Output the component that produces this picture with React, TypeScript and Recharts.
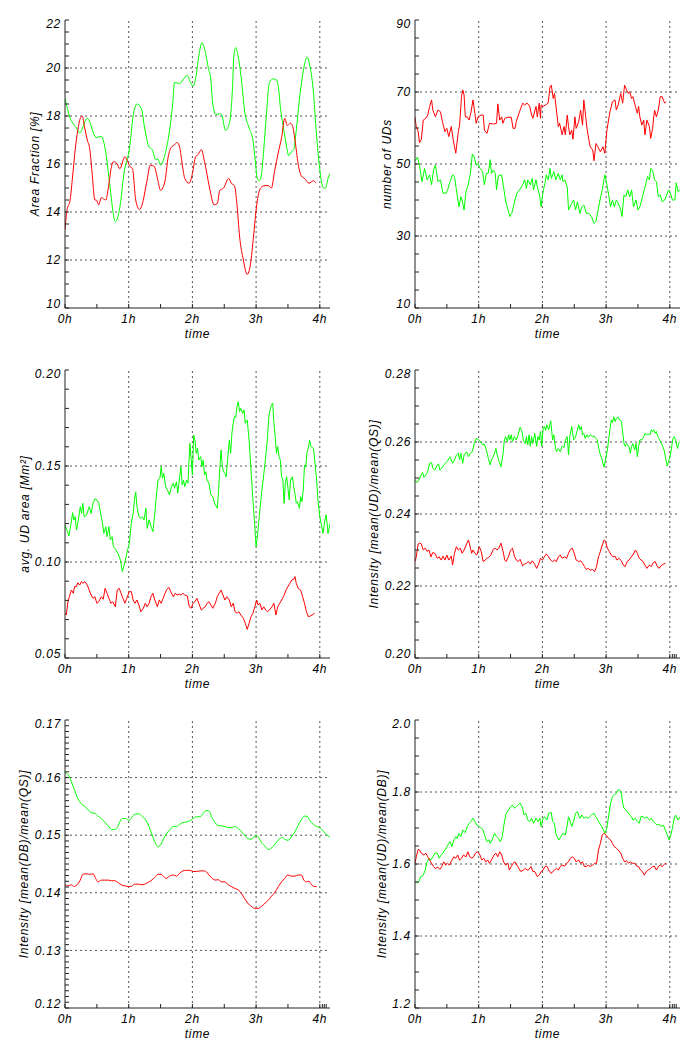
import React from 'react';
import { LineChart, Line, XAxis, YAxis, ReferenceLine } from 'recharts';

type Pt = [number, number];

// time axis (hours)
const T_MAX = 4.16;
const hourTicks = [0, 0.5, 1, 1.5, 2, 2.5, 3, 3.5, 4];
const endTicks = [4.04, 4.07, 4.1];
const hourGrid = [1, 2, 3, 4];

// A: area fraction [%]
const areaGreen: Pt[] = [
  [0, 18.74], [0.07, 18.0], [0.18, 17.5], [0.23, 17.3], [0.35, 17.9], [0.49, 17.1], [0.57, 17.15], [0.65, 16.3],
  [0.70, 15.2], [0.79, 13.6], [0.87, 14.35], [0.92, 15.5], [1.02, 16.8], [1.07, 18.0], [1.13, 18.5], [1.20, 18.3],
  [1.25, 17.5], [1.32, 16.7], [1.37, 16.6], [1.42, 16.2], [1.46, 16.2], [1.50, 15.95], [1.57, 16.4], [1.63, 17.2],
  [1.69, 18.5], [1.72, 19.4], [1.80, 19.35], [1.85, 19.5], [1.92, 19.7], [1.96, 19.45], [2.01, 19.25], [2.06, 19.7],
  [2.10, 20.5], [2.15, 21.05], [2.19, 20.8], [2.25, 20.0], [2.29, 19.5], [2.32, 18.5], [2.37, 18.05], [2.43, 18.1],
  [2.46, 18.05], [2.52, 17.4], [2.58, 17.7], [2.63, 19.2], [2.65, 20.5], [2.68, 20.85], [2.71, 20.6], [2.77, 19.5],
  [2.82, 18.2], [2.89, 17.5], [2.95, 17.0], [2.98, 16.3], [3.02, 15.4], [3.05, 15.3], [3.08, 15.5], [3.12, 16.6],
  [3.16, 18.0], [3.21, 19.4], [3.27, 19.55], [3.32, 19.5], [3.35, 19.2], [3.38, 18.4], [3.43, 17.5], [3.48, 16.7],
  [3.51, 16.35], [3.55, 16.5], [3.59, 16.6], [3.63, 17.4], [3.68, 18.7], [3.73, 19.7], [3.78, 20.35], [3.80, 20.45],
  [3.85, 20.0], [3.90, 19.0], [3.94, 17.5], [3.99, 16.0], [4.03, 15.2], [4.06, 15.0], [4.09, 15.0], [4.13, 15.4],
  [4.16, 15.6],
];
const areaRed: Pt[] = [
  [0, 13.25], [0.03, 14.05], [0.08, 14.5], [0.12, 15.5], [0.16, 16.6], [0.20, 17.4], [0.24, 17.9], [0.27, 18.0],
  [0.31, 17.5], [0.35, 17.0], [0.39, 16.6], [0.42, 15.8], [0.47, 14.5], [0.49, 14.5], [0.53, 14.3], [0.57, 14.6],
  [0.64, 14.5], [0.68, 15.0], [0.73, 15.9], [0.76, 16.1], [0.82, 16.0], [0.86, 15.8], [0.94, 16.3], [1.02, 15.9],
  [1.06, 15.8], [1.11, 14.5], [1.17, 14.1], [1.21, 14.3], [1.28, 15.2], [1.34, 15.95], [1.40, 15.9], [1.46, 15.3],
  [1.50, 14.9], [1.57, 15.3], [1.62, 16.3], [1.67, 16.7], [1.72, 16.8], [1.76, 16.9], [1.80, 16.7], [1.84, 16.0],
  [1.88, 15.4], [1.95, 15.2], [2.00, 15.6], [2.05, 16.3], [2.09, 16.4], [2.14, 16.6], [2.19, 16.1], [2.27, 15.0],
  [2.34, 14.3], [2.39, 14.35], [2.43, 14.9], [2.49, 15.0], [2.57, 15.4], [2.61, 15.2], [2.66, 15.1], [2.70, 14.3],
  [2.74, 13.0], [2.80, 12.0], [2.86, 11.4], [2.91, 11.8], [2.96, 13.0], [3.01, 14.3], [3.07, 15.0], [3.14, 15.1],
  [3.19, 15.1], [3.24, 15.0], [3.29, 15.7], [3.35, 16.5], [3.40, 17.1], [3.45, 17.9], [3.49, 17.6], [3.54, 17.7],
  [3.57, 17.6], [3.61, 17.0], [3.66, 16.0], [3.71, 15.5], [3.76, 15.4], [3.83, 15.2], [3.90, 15.3], [3.94, 15.2],
];

// B: number of UDs
const countGreen: Pt[] = [
  [0, 50.9], [0.04, 51.9], [0.07, 49.7], [0.11, 45.1], [0.15, 48.8], [0.19, 45.6], [0.23, 47], [0.26, 44.2],
  [0.29, 48.3], [0.32, 49.7], [0.36, 45.1], [0.40, 45.6], [0.44, 41.9], [0.49, 41.9], [0.52, 43.2], [0.54, 44.6],
  [0.59, 47], [0.62, 46.5], [0.65, 42.8], [0.69, 38.1], [0.72, 40.9], [0.74, 40], [0.77, 37.2], [0.80, 42.3],
  [0.84, 44.6], [0.87, 47.4], [0.90, 52.8], [0.93, 52], [0.96, 49.7], [0.99, 50.1], [1.02, 48.8], [1.06, 47.9],
  [1.09, 44.2], [1.12, 47.4], [1.15, 47.4], [1.18, 51.2], [1.20, 47.4], [1.23, 48.3], [1.26, 47.4], [1.28, 42.8],
  [1.31, 46.7], [1.36, 47], [1.39, 43.7], [1.42, 40], [1.46, 37.2], [1.49, 35.4], [1.52, 36.3], [1.57, 40],
  [1.60, 41.9], [1.64, 42.8], [1.69, 44.2], [1.72, 45.6], [1.75, 43.2], [1.77, 45.6], [1.81, 44.2], [1.84, 46],
  [1.86, 42.8], [1.90, 45.6], [1.92, 43.7], [1.96, 40.9], [1.98, 38.1], [2.01, 42.3], [2.04, 44.6], [2.06, 47],
  [2.09, 45.6], [2.12, 48.8], [2.14, 46], [2.18, 47.9], [2.21, 45.6], [2.25, 47.4], [2.28, 45.6], [2.31, 47],
  [2.32, 45.1], [2.35, 45.6], [2.39, 43.7], [2.41, 37.2], [2.46, 39.1], [2.49, 40], [2.52, 37.2], [2.55, 39.5],
  [2.59, 36.3], [2.62, 38.1], [2.65, 38.6], [2.69, 36.3], [2.73, 36.3], [2.77, 35.4], [2.81, 33.5], [2.84, 34],
  [2.87, 36.8], [2.91, 40.5], [2.94, 42.8], [2.98, 47], [3.01, 44.6], [3.04, 41.4], [3.07, 38.1], [3.10, 40],
  [3.13, 38.1], [3.16, 40], [3.19, 39.1], [3.23, 37.2], [3.25, 35.4], [3.28, 41.4], [3.31, 40.9], [3.34, 42.8],
  [3.37, 40.9], [3.40, 42.8], [3.43, 38.1], [3.47, 40], [3.50, 37.2], [3.53, 38.1], [3.56, 40], [3.59, 42.3],
  [3.62, 44.2], [3.65, 46.5], [3.68, 45.6], [3.70, 48.8], [3.73, 48.3], [3.76, 45.6], [3.79, 45.1], [3.82, 40.9],
  [3.85, 41.4], [3.88, 39.5], [3.92, 40], [3.95, 41.4], [3.98, 42.8], [4.01, 41.9], [4.04, 40], [4.08, 40],
  [4.10, 44.8], [4.13, 42.3], [4.16, 42.8],
];
const countRed: Pt[] = [
  [0, 63], [0.02, 60.4], [0.05, 59], [0.07, 55.9], [0.10, 56.9], [0.13, 62.2], [0.17, 62.7], [0.20, 63.6],
  [0.23, 66], [0.26, 67.8], [0.28, 65], [0.32, 63.1], [0.36, 65], [0.40, 64.5], [0.43, 61.8], [0.47, 59],
  [0.50, 59.9], [0.53, 57.6], [0.57, 60.4], [0.60, 56.7], [0.64, 53], [0.68, 59], [0.70, 60.8], [0.73, 68.7],
  [0.75, 70.6], [0.77, 69.2], [0.79, 63.1], [0.82, 63.1], [0.85, 62.2], [0.88, 64.5], [0.91, 67.8], [0.94, 64.1],
  [0.96, 61.3], [0.99, 63.1], [1.04, 63.6], [1.07, 63.6], [1.09, 59.4], [1.13, 58.5], [1.17, 61.3], [1.23, 61.1],
  [1.28, 61.3], [1.30, 66.7], [1.33, 62.2], [1.36, 63.1], [1.38, 61.3], [1.41, 62.7], [1.46, 63], [1.51, 63],
  [1.54, 59.9], [1.57, 59.9], [1.59, 61.8], [1.64, 64.5], [1.69, 66.9], [1.72, 66.4], [1.76, 66.9], [1.80, 66.1],
  [1.83, 63.6], [1.85, 62.7], [1.90, 66], [1.92, 63.1], [1.95, 66.9], [1.97, 62.7], [1.98, 66.4], [2.01, 66],
  [2.05, 66.4], [2.09, 66.9], [2.12, 71.5], [2.14, 71.9], [2.17, 68.2], [2.19, 69.6], [2.22, 65], [2.25, 60.4],
  [2.27, 61.3], [2.31, 58.1], [2.34, 60.4], [2.36, 58.1], [2.39, 63.6], [2.41, 60.4], [2.43, 58.1], [2.46, 59.4],
  [2.48, 56.9], [2.51, 63.1], [2.53, 59.9], [2.57, 61.8], [2.60, 65], [2.63, 60.8], [2.65, 67.8], [2.68, 63.1],
  [2.70, 59.9], [2.73, 56.7], [2.75, 54.8], [2.79, 53.9], [2.81, 50.9], [2.84, 55.7], [2.87, 54.8], [2.91, 53.4],
  [2.95, 54.8], [2.98, 53], [3.01, 59], [3.03, 61.3], [3.06, 64.5], [3.10, 67.3], [3.14, 67.8], [3.16, 65],
  [3.19, 66.4], [3.23, 69.6], [3.26, 66.9], [3.29, 71.9], [3.32, 70.6], [3.35, 69.6], [3.37, 70.1], [3.40, 68.2],
  [3.42, 68.7], [3.46, 66], [3.49, 64.1], [3.51, 66], [3.53, 63.1], [3.56, 60.8], [3.59, 62.2], [3.61, 58.1],
  [3.64, 62.2], [3.68, 60.4], [3.70, 57.1], [3.73, 59.9], [3.76, 65], [3.79, 63.1], [3.82, 65], [3.85, 68.7],
  [3.88, 68.7], [3.91, 67.3], [3.92, 66.9], [3.94, 67.3],
];

// C: avg. UD area [Mm^2]
const sizeGreen: Pt[] = [
  [0, 0.1193], [0.04, 0.1158], [0.06, 0.1135], [0.09, 0.119], [0.12, 0.1257], [0.14, 0.1219], [0.16, 0.1236],
  [0.18, 0.1167], [0.21, 0.1219], [0.24, 0.1288], [0.26, 0.1253], [0.28, 0.1306], [0.30, 0.1236], [0.34, 0.1245],
  [0.38, 0.1288], [0.41, 0.1253], [0.44, 0.1306], [0.47, 0.133], [0.50, 0.1323], [0.53, 0.1306], [0.56, 0.1253],
  [0.59, 0.1201], [0.61, 0.1149], [0.64, 0.1184], [0.66, 0.1132], [0.69, 0.1184], [0.71, 0.1115], [0.74, 0.1132],
  [0.76, 0.108], [0.80, 0.1063], [0.83, 0.1045], [0.87, 0.101], [0.90, 0.095], [0.94, 0.0998], [0.97, 0.1045],
  [1.01, 0.1097], [1.04, 0.1201], [1.07, 0.1253], [1.09, 0.1323], [1.11, 0.1365], [1.13, 0.1288], [1.16, 0.1236],
  [1.18, 0.1227], [1.21, 0.1236], [1.24, 0.1219], [1.27, 0.128], [1.29, 0.1175], [1.32, 0.1219], [1.36, 0.1175],
  [1.38, 0.1158], [1.41, 0.1253], [1.43, 0.1332], [1.46, 0.1427], [1.49, 0.1436], [1.51, 0.1497], [1.53, 0.1436],
  [1.55, 0.1462], [1.58, 0.1392], [1.62, 0.1366], [1.64, 0.1349], [1.67, 0.1392], [1.70, 0.141], [1.72, 0.1384],
  [1.75, 0.1418], [1.77, 0.1358], [1.80, 0.1444], [1.82, 0.1497], [1.84, 0.1401], [1.86, 0.1427], [1.88, 0.1392],
  [1.91, 0.1427], [1.93, 0.141], [1.96, 0.1618], [1.98, 0.154], [2.00, 0.1453], [2.02, 0.1661], [2.04, 0.1635],
  [2.06, 0.1566], [2.08, 0.1592], [2.10, 0.1531], [2.13, 0.1549], [2.15, 0.1497], [2.17, 0.1531], [2.19, 0.1453],
  [2.21, 0.147], [2.23, 0.1427], [2.26, 0.141], [2.29, 0.1349], [2.32, 0.134], [2.35, 0.1306], [2.39, 0.128],
  [2.41, 0.1366], [2.43, 0.1488], [2.45, 0.1583], [2.47, 0.1497], [2.49, 0.147], [2.51, 0.1462], [2.53, 0.1444],
  [2.55, 0.1523], [2.58, 0.1635], [2.60, 0.1566], [2.62, 0.167], [2.64, 0.1722], [2.66, 0.1757], [2.68, 0.1753],
  [2.70, 0.1809], [2.72, 0.1835], [2.74, 0.1783], [2.76, 0.18], [2.79, 0.1774], [2.81, 0.1792], [2.83, 0.1722],
  [2.86, 0.174], [2.89, 0.1635], [2.91, 0.1531], [2.93, 0.1427], [2.95, 0.1323], [2.98, 0.1184], [3.00, 0.108],
  [3.02, 0.1132], [3.05, 0.1236], [3.08, 0.134], [3.11, 0.1427], [3.14, 0.1514], [3.16, 0.1583], [3.18, 0.1653],
  [3.20, 0.1757], [3.23, 0.1809], [3.26, 0.1828], [3.28, 0.1722], [3.30, 0.1653], [3.32, 0.1566], [3.34, 0.1601],
  [3.36, 0.1549], [3.38, 0.1531], [3.40, 0.1444], [3.42, 0.1427], [3.44, 0.1306], [3.46, 0.1418], [3.48, 0.1444],
  [3.50, 0.1384], [3.52, 0.1323], [3.54, 0.1427], [3.57, 0.1444], [3.59, 0.1392], [3.61, 0.1358], [3.63, 0.1306],
  [3.65, 0.1314], [3.68, 0.128], [3.70, 0.134], [3.72, 0.1314], [3.74, 0.1375], [3.76, 0.1505], [3.78, 0.1497],
  [3.80, 0.1575], [3.82, 0.1592], [3.84, 0.1635], [3.86, 0.1601], [3.90, 0.1592], [3.92, 0.1531], [3.95, 0.1427],
  [3.97, 0.1323], [4.00, 0.1236], [4.03, 0.1184], [4.05, 0.1149], [4.08, 0.1219], [4.10, 0.1245], [4.13, 0.1149],
  [4.16, 0.1201],
];
const sizeRed: Pt[] = [
  [0, 0.0733], [0.02, 0.0724], [0.05, 0.0802], [0.07, 0.0819], [0.10, 0.0854], [0.13, 0.0837], [0.15, 0.0872],
  [0.18, 0.0872], [0.20, 0.0892], [0.23, 0.088], [0.26, 0.0898], [0.28, 0.0889], [0.31, 0.0898], [0.35, 0.088],
  [0.38, 0.0854], [0.41, 0.0828], [0.44, 0.0811], [0.47, 0.0819], [0.50, 0.0785], [0.53, 0.0793], [0.57, 0.0819],
  [0.60, 0.0806], [0.63, 0.0863], [0.66, 0.0837], [0.69, 0.0811], [0.72, 0.0785], [0.75, 0.0793], [0.79, 0.0767],
  [0.82, 0.0854], [0.85, 0.0863], [0.88, 0.0837], [0.91, 0.0811], [0.94, 0.0785], [0.97, 0.0811], [1.01, 0.0846],
  [1.04, 0.0846], [1.07, 0.0802], [1.10, 0.0785], [1.13, 0.0802], [1.16, 0.0776], [1.19, 0.0741], [1.23, 0.0759],
  [1.26, 0.0785], [1.29, 0.0767], [1.32, 0.0785], [1.35, 0.0819], [1.38, 0.0837], [1.41, 0.0802], [1.45, 0.0767],
  [1.48, 0.0802], [1.51, 0.0785], [1.54, 0.0811], [1.57, 0.0837], [1.60, 0.0858], [1.63, 0.0868], [1.66, 0.0846],
  [1.70, 0.0819], [1.73, 0.0837], [1.76, 0.0828], [1.79, 0.0833], [1.82, 0.0828], [1.85, 0.0837], [1.88, 0.0828],
  [1.92, 0.0823], [1.95, 0.0767], [1.98, 0.0759], [2.01, 0.0785], [2.04, 0.0793], [2.07, 0.0811], [2.10, 0.0785],
  [2.14, 0.075], [2.17, 0.0759], [2.20, 0.0767], [2.23, 0.0785], [2.26, 0.0793], [2.29, 0.0776], [2.32, 0.0759],
  [2.36, 0.0785], [2.39, 0.0819], [2.42, 0.0837], [2.45, 0.0854], [2.48, 0.0828], [2.51, 0.0802], [2.54, 0.0819],
  [2.58, 0.0802], [2.61, 0.0767], [2.64, 0.0785], [2.67, 0.0741], [2.70, 0.0733], [2.73, 0.0741], [2.76, 0.0724],
  [2.80, 0.0707], [2.83, 0.0681], [2.86, 0.0649], [2.89, 0.0681], [2.92, 0.0715], [2.95, 0.0733], [2.98, 0.0767],
  [3.01, 0.0802], [3.03, 0.0776], [3.06, 0.0785], [3.09, 0.075], [3.12, 0.0767], [3.15, 0.075], [3.18, 0.0741],
  [3.21, 0.075], [3.25, 0.0767], [3.28, 0.0785], [3.31, 0.0724], [3.34, 0.0767], [3.37, 0.0785], [3.40, 0.0802],
  [3.43, 0.0819], [3.47, 0.0854], [3.50, 0.0872], [3.53, 0.0889], [3.56, 0.0906], [3.59, 0.091], [3.61, 0.0924],
  [3.63, 0.0889], [3.66, 0.0863], [3.70, 0.0854], [3.73, 0.0819], [3.76, 0.0785], [3.79, 0.0741], [3.82, 0.0715],
  [3.85, 0.0719], [3.88, 0.0724], [3.92, 0.0733],
];

// D: mean(UD)/mean(QS)
const udqsGreen: Pt[] = [
  [0, 0.2494], [0.03, 0.2487], [0.06, 0.2494], [0.09, 0.2506], [0.12, 0.2515], [0.14, 0.2502], [0.17, 0.2508],
  [0.20, 0.2518], [0.23, 0.2541], [0.26, 0.2543], [0.28, 0.2527], [0.31, 0.2522], [0.35, 0.2536], [0.37, 0.2539],
  [0.39, 0.2522], [0.42, 0.2527], [0.45, 0.2536], [0.49, 0.2543], [0.52, 0.255], [0.55, 0.2559], [0.59, 0.2541],
  [0.62, 0.255], [0.65, 0.2564], [0.68, 0.2569], [0.70, 0.255], [0.72, 0.2569], [0.75, 0.2541], [0.77, 0.2564],
  [0.81, 0.2573], [0.84, 0.2559], [0.87, 0.2569], [0.90, 0.2573], [0.93, 0.2596], [0.96, 0.261], [0.99, 0.2607],
  [1.03, 0.2601], [1.06, 0.2592], [1.09, 0.2594], [1.12, 0.2578], [1.15, 0.2555], [1.18, 0.2536], [1.20, 0.255],
  [1.24, 0.2564], [1.27, 0.2582], [1.29, 0.2564], [1.32, 0.2546], [1.35, 0.2531], [1.38, 0.2564], [1.40, 0.2601],
  [1.42, 0.2615], [1.45, 0.2601], [1.47, 0.262], [1.49, 0.2606], [1.51, 0.262], [1.53, 0.2601], [1.56, 0.2615],
  [1.59, 0.2606], [1.62, 0.262], [1.65, 0.2641], [1.68, 0.2629], [1.70, 0.2606], [1.73, 0.2596], [1.75, 0.2615],
  [1.77, 0.2592], [1.79, 0.262], [1.81, 0.2588], [1.83, 0.2615], [1.85, 0.2596], [1.88, 0.2624], [1.91, 0.2588],
  [1.93, 0.2615], [1.95, 0.2606], [1.97, 0.2629], [1.99, 0.2588], [2.01, 0.2636], [2.03, 0.2643], [2.05, 0.2632],
  [2.07, 0.2648], [2.10, 0.2634], [2.13, 0.2659], [2.16, 0.2606], [2.18, 0.262], [2.20, 0.2588], [2.22, 0.2573],
  [2.25, 0.2582], [2.28, 0.2573], [2.31, 0.2588], [2.34, 0.2585], [2.36, 0.2606], [2.39, 0.2615], [2.41, 0.2564],
  [2.43, 0.2615], [2.46, 0.2643], [2.49, 0.2606], [2.51, 0.261], [2.53, 0.262], [2.57, 0.2648], [2.59, 0.2634],
  [2.61, 0.2643], [2.63, 0.262], [2.65, 0.2624], [2.67, 0.261], [2.70, 0.262], [2.72, 0.2613], [2.75, 0.262],
  [2.79, 0.2615], [2.81, 0.2617], [2.84, 0.261], [2.86, 0.2606], [2.89, 0.2578], [2.91, 0.2564], [2.93, 0.2555],
  [2.95, 0.2541], [2.97, 0.253], [2.99, 0.255], [3.02, 0.2578], [3.04, 0.2606], [3.06, 0.2634], [3.08, 0.2661],
  [3.10, 0.2654], [3.12, 0.267], [3.14, 0.2657], [3.16, 0.2666], [3.19, 0.2669], [3.21, 0.2661], [3.24, 0.2657],
  [3.26, 0.2629], [3.28, 0.2596], [3.30, 0.2588], [3.32, 0.2596], [3.34, 0.259], [3.36, 0.2588], [3.38, 0.2569],
  [3.40, 0.2588], [3.42, 0.2596], [3.45, 0.2578], [3.47, 0.2596], [3.49, 0.2559], [3.51, 0.2588], [3.53, 0.2606],
  [3.56, 0.2606], [3.59, 0.2615], [3.61, 0.2624], [3.63, 0.262], [3.66, 0.2622], [3.69, 0.262], [3.71, 0.2634],
  [3.73, 0.2629], [3.75, 0.2634], [3.77, 0.2624], [3.79, 0.2629], [3.81, 0.2615], [3.84, 0.2606], [3.87, 0.2596],
  [3.91, 0.2578], [3.94, 0.255], [3.96, 0.2533], [3.98, 0.2546], [4.01, 0.2564], [4.03, 0.2588], [4.05, 0.261],
  [4.07, 0.2615], [4.09, 0.2606], [4.12, 0.2582], [4.14, 0.2596], [4.16, 0.2601],
];
const udqsRed: Pt[] = [
  [0, 0.2268], [0.02, 0.2281], [0.05, 0.2317], [0.07, 0.2319], [0.10, 0.2317], [0.13, 0.23], [0.16, 0.2305],
  [0.19, 0.2296], [0.22, 0.23], [0.25, 0.2281], [0.28, 0.2293], [0.31, 0.2291], [0.35, 0.2277], [0.38, 0.2281],
  [0.41, 0.2272], [0.44, 0.2283], [0.47, 0.2272], [0.50, 0.2286], [0.53, 0.2272], [0.57, 0.2283], [0.59, 0.2258],
  [0.62, 0.2291], [0.65, 0.2309], [0.68, 0.23], [0.71, 0.2305], [0.74, 0.2291], [0.77, 0.23], [0.81, 0.2317],
  [0.84, 0.2328], [0.87, 0.2305], [0.89, 0.2291], [0.91, 0.23], [0.94, 0.2291], [0.97, 0.2286], [1.01, 0.2309],
  [1.04, 0.2296], [1.07, 0.2268], [1.10, 0.2272], [1.13, 0.2277], [1.16, 0.228], [1.19, 0.2286], [1.23, 0.2302],
  [1.26, 0.2305], [1.29, 0.23], [1.32, 0.2307], [1.35, 0.2319], [1.38, 0.2298], [1.41, 0.2272], [1.43, 0.2268],
  [1.47, 0.2283], [1.50, 0.23], [1.53, 0.2305], [1.56, 0.2283], [1.59, 0.2272], [1.62, 0.2268], [1.65, 0.2274],
  [1.69, 0.2256], [1.72, 0.2261], [1.75, 0.2263], [1.78, 0.2268], [1.81, 0.2261], [1.84, 0.227], [1.87, 0.2263],
  [1.91, 0.2249], [1.94, 0.2261], [1.97, 0.2277], [2.00, 0.2272], [2.03, 0.2281], [2.06, 0.2289], [2.09, 0.2283],
  [2.13, 0.2272], [2.16, 0.2268], [2.19, 0.2272], [2.22, 0.2268], [2.25, 0.2281], [2.28, 0.2286], [2.31, 0.2277],
  [2.35, 0.2281], [2.38, 0.2277], [2.41, 0.2291], [2.44, 0.2302], [2.47, 0.2305], [2.50, 0.2291], [2.53, 0.2272],
  [2.57, 0.2268], [2.60, 0.227], [2.63, 0.2263], [2.66, 0.2254], [2.69, 0.2246], [2.72, 0.2249], [2.75, 0.2244],
  [2.79, 0.2246], [2.82, 0.224], [2.85, 0.2254], [2.88, 0.2281], [2.91, 0.2296], [2.94, 0.2314], [2.97, 0.2328],
  [2.99, 0.2324], [3.02, 0.2305], [3.05, 0.2296], [3.08, 0.2286], [3.11, 0.2281], [3.14, 0.2283], [3.17, 0.2272],
  [3.20, 0.2277], [3.24, 0.227], [3.27, 0.2258], [3.30, 0.2254], [3.33, 0.2268], [3.36, 0.2272], [3.39, 0.228],
  [3.42, 0.2286], [3.46, 0.23], [3.49, 0.2291], [3.52, 0.2277], [3.55, 0.2272], [3.58, 0.2268], [3.61, 0.2258],
  [3.64, 0.2249], [3.68, 0.2258], [3.71, 0.2254], [3.74, 0.2265], [3.77, 0.2268], [3.80, 0.2256], [3.83, 0.2249],
  [3.86, 0.2256], [3.90, 0.2261], [3.93, 0.2263],
];

// E: mean(DB)/mean(QS)
const dbqsGreen: Pt[] = [
  [0, 0.1609], [0.05, 0.1605], [0.10, 0.1593], [0.15, 0.1578], [0.20, 0.1564], [0.26, 0.1554], [0.31, 0.155],
  [0.36, 0.1545], [0.41, 0.1539], [0.47, 0.1538], [0.52, 0.1533], [0.57, 0.1529], [0.62, 0.1523], [0.68, 0.1516],
  [0.73, 0.151], [0.78, 0.151], [0.82, 0.1513], [0.86, 0.1523], [0.90, 0.1529], [0.95, 0.1529], [1.01, 0.1526],
  [1.06, 0.1533], [1.11, 0.1537], [1.16, 0.1537], [1.21, 0.1533], [1.27, 0.1526], [1.32, 0.1515], [1.37, 0.15],
  [1.42, 0.1486], [1.46, 0.148], [1.50, 0.1483], [1.54, 0.1492], [1.59, 0.1502], [1.64, 0.1509], [1.70, 0.1515],
  [1.75, 0.1515], [1.80, 0.1519], [1.85, 0.1522], [1.91, 0.1523], [1.96, 0.1525], [2.01, 0.1529], [2.06, 0.1532],
  [2.12, 0.1532], [2.17, 0.1538], [2.19, 0.1541], [2.23, 0.1543], [2.27, 0.1541], [2.30, 0.1532], [2.35, 0.1523],
  [2.40, 0.1517], [2.46, 0.1516], [2.51, 0.1515], [2.56, 0.1513], [2.61, 0.1513], [2.66, 0.1515], [2.72, 0.1512],
  [2.77, 0.1506], [2.82, 0.15], [2.87, 0.1494], [2.93, 0.1493], [2.96, 0.1497], [3.01, 0.1499], [3.05, 0.1494],
  [3.08, 0.1488], [3.14, 0.1481], [3.19, 0.1475], [3.23, 0.1477], [3.27, 0.1481], [3.31, 0.1486], [3.36, 0.1493],
  [3.41, 0.1496], [3.45, 0.1493], [3.50, 0.1491], [3.55, 0.1497], [3.61, 0.1506], [3.66, 0.1517], [3.71, 0.1527],
  [3.76, 0.1533], [3.80, 0.1533], [3.84, 0.1526], [3.90, 0.1519], [3.95, 0.1515], [4.00, 0.1513], [4.04, 0.1509],
  [4.09, 0.1503], [4.15, 0.1497], [4.16, 0.1496],
];
const dbqsRed: Pt[] = [
  [0, 0.1414], [0.05, 0.1412], [0.10, 0.1414], [0.14, 0.1411], [0.19, 0.1414], [0.24, 0.1422], [0.28, 0.1432],
  [0.34, 0.1433], [0.39, 0.1432], [0.44, 0.1433], [0.48, 0.1425], [0.52, 0.1419], [0.57, 0.1422], [0.62, 0.1422],
  [0.68, 0.1422], [0.73, 0.1421], [0.78, 0.1421], [0.83, 0.1418], [0.88, 0.1414], [0.94, 0.1412], [0.99, 0.1411],
  [1.04, 0.1411], [1.09, 0.1415], [1.15, 0.1415], [1.20, 0.1414], [1.25, 0.1415], [1.30, 0.1418], [1.36, 0.1422],
  [1.41, 0.1427], [1.46, 0.1432], [1.51, 0.1432], [1.55, 0.1428], [1.59, 0.1425], [1.64, 0.1429], [1.70, 0.1431],
  [1.75, 0.1429], [1.80, 0.1434], [1.85, 0.1438], [1.91, 0.1439], [1.96, 0.1439], [2.01, 0.1437], [2.06, 0.1437],
  [2.12, 0.1438], [2.17, 0.1438], [2.21, 0.1437], [2.26, 0.1431], [2.31, 0.1425], [2.37, 0.1422], [2.40, 0.1423],
  [2.46, 0.1419], [2.51, 0.1419], [2.56, 0.1414], [2.61, 0.1411], [2.66, 0.1408], [2.72, 0.1405], [2.77, 0.1399],
  [2.82, 0.139], [2.87, 0.1382], [2.93, 0.1376], [2.98, 0.1373], [3.03, 0.1373], [3.08, 0.1376], [3.14, 0.1382],
  [3.19, 0.1387], [3.24, 0.1394], [3.29, 0.14], [3.35, 0.1411], [3.40, 0.1419], [3.45, 0.1425], [3.50, 0.1431],
  [3.55, 0.1429], [3.61, 0.1429], [3.66, 0.1431], [3.71, 0.1431], [3.75, 0.1422], [3.79, 0.1419], [3.83, 0.142],
  [3.87, 0.1414], [3.92, 0.1411], [3.95, 0.1411],
];

// F: mean(UD)/mean(DB)
const uddbGreen: Pt[] = [
  [0, 1.551], [0.04, 1.548], [0.06, 1.551], [0.09, 1.565], [0.13, 1.569], [0.16, 1.583], [0.19, 1.606], [0.22, 1.616],
  [0.25, 1.611], [0.28, 1.62], [0.31, 1.63], [0.35, 1.63], [0.38, 1.616], [0.41, 1.625], [0.44, 1.63], [0.47, 1.639],
  [0.50, 1.648], [0.53, 1.657], [0.55, 1.662], [0.58, 1.648], [0.61, 1.667], [0.64, 1.676], [0.66, 1.671], [0.69, 1.685],
  [0.72, 1.676], [0.75, 1.694], [0.79, 1.687], [0.82, 1.704], [0.85, 1.713], [0.88, 1.718], [0.91, 1.727], [0.94, 1.718],
  [0.97, 1.708], [1.01, 1.704], [1.04, 1.699], [1.07, 1.694], [1.10, 1.676], [1.13, 1.662], [1.16, 1.667], [1.18, 1.657],
  [1.21, 1.667], [1.25, 1.685], [1.28, 1.676], [1.31, 1.671], [1.34, 1.662], [1.37, 1.676], [1.40, 1.713], [1.43, 1.741],
  [1.47, 1.75], [1.50, 1.759], [1.53, 1.764], [1.56, 1.755], [1.59, 1.759], [1.62, 1.764], [1.65, 1.769], [1.69, 1.755],
  [1.71, 1.736], [1.74, 1.741], [1.77, 1.722], [1.80, 1.718], [1.83, 1.727], [1.86, 1.713], [1.90, 1.727], [1.93, 1.718],
  [1.96, 1.727], [1.98, 1.704], [2.01, 1.727], [2.04, 1.731], [2.07, 1.722], [2.10, 1.741], [2.14, 1.743], [2.16, 1.718],
  [2.19, 1.713], [2.21, 1.685], [2.23, 1.676], [2.26, 1.667], [2.29, 1.676], [2.32, 1.685], [2.36, 1.681], [2.39, 1.708],
  [2.41, 1.731], [2.43, 1.722], [2.46, 1.704], [2.49, 1.718], [2.52, 1.741], [2.55, 1.745], [2.59, 1.727], [2.62, 1.736],
  [2.65, 1.727], [2.68, 1.731], [2.71, 1.727], [2.74, 1.731], [2.77, 1.736], [2.81, 1.741], [2.84, 1.731], [2.87, 1.722],
  [2.90, 1.713], [2.93, 1.704], [2.96, 1.694], [2.98, 1.685], [3.01, 1.699], [3.03, 1.722], [3.05, 1.745], [3.07, 1.769],
  [3.10, 1.787], [3.13, 1.792], [3.16, 1.796], [3.19, 1.807], [3.21, 1.806], [3.24, 1.796], [3.26, 1.769], [3.28, 1.755],
  [3.31, 1.75], [3.34, 1.745], [3.37, 1.736], [3.40, 1.731], [3.42, 1.722], [3.46, 1.727], [3.49, 1.718], [3.52, 1.713],
  [3.55, 1.733], [3.58, 1.731], [3.61, 1.727], [3.64, 1.731], [3.68, 1.722], [3.71, 1.727], [3.74, 1.718], [3.77, 1.713],
  [3.80, 1.708], [3.83, 1.711], [3.86, 1.704], [3.90, 1.708], [3.93, 1.694], [3.96, 1.681], [3.99, 1.667], [4.01, 1.676],
  [4.04, 1.699], [4.07, 1.727], [4.09, 1.736], [4.13, 1.722], [4.16, 1.731],
];
const uddbRed: Pt[] = [
  [0, 1.602], [0.02, 1.62], [0.05, 1.641], [0.07, 1.639], [0.10, 1.63], [0.14, 1.625], [0.17, 1.63], [0.20, 1.62],
  [0.23, 1.611], [0.26, 1.602], [0.29, 1.593], [0.32, 1.588], [0.36, 1.591], [0.39, 1.585], [0.42, 1.593], [0.45, 1.606],
  [0.48, 1.597], [0.51, 1.602], [0.54, 1.597], [0.58, 1.611], [0.61, 1.62], [0.64, 1.616], [0.67, 1.625], [0.70, 1.611],
  [0.73, 1.616], [0.76, 1.625], [0.80, 1.62], [0.83, 1.634], [0.86, 1.62], [0.89, 1.616], [0.92, 1.62], [0.95, 1.63],
  [0.98, 1.634], [1.02, 1.625], [1.05, 1.611], [1.08, 1.616], [1.11, 1.606], [1.14, 1.611], [1.17, 1.602], [1.20, 1.611],
  [1.24, 1.625], [1.27, 1.63], [1.30, 1.62], [1.33, 1.634], [1.36, 1.625], [1.39, 1.606], [1.42, 1.597], [1.46, 1.602],
  [1.48, 1.583], [1.51, 1.593], [1.54, 1.602], [1.57, 1.606], [1.60, 1.597], [1.63, 1.588], [1.66, 1.579], [1.70, 1.583],
  [1.73, 1.588], [1.76, 1.583], [1.79, 1.585], [1.82, 1.593], [1.85, 1.579], [1.88, 1.579], [1.92, 1.565], [1.95, 1.569],
  [1.98, 1.579], [2.01, 1.583], [2.04, 1.593], [2.07, 1.594], [2.10, 1.583], [2.14, 1.574], [2.16, 1.579], [2.19, 1.583],
  [2.22, 1.588], [2.25, 1.583], [2.28, 1.593], [2.31, 1.597], [2.35, 1.594], [2.38, 1.602], [2.41, 1.606], [2.44, 1.616],
  [2.47, 1.62], [2.50, 1.616], [2.53, 1.606], [2.57, 1.611], [2.60, 1.602], [2.63, 1.606], [2.66, 1.593], [2.69, 1.593],
  [2.72, 1.597], [2.75, 1.593], [2.79, 1.597], [2.82, 1.602], [2.85, 1.602], [2.88, 1.639], [2.91, 1.657], [2.94, 1.681],
  [2.97, 1.685], [3.01, 1.678], [3.04, 1.671], [3.07, 1.667], [3.10, 1.657], [3.13, 1.648], [3.16, 1.644], [3.19, 1.639],
  [3.23, 1.63], [3.26, 1.616], [3.29, 1.606], [3.32, 1.609], [3.35, 1.602], [3.38, 1.606], [3.41, 1.602], [3.45, 1.602],
  [3.48, 1.594], [3.51, 1.593], [3.54, 1.583], [3.57, 1.579], [3.60, 1.569], [3.63, 1.579], [3.66, 1.583], [3.70, 1.588],
  [3.73, 1.593], [3.76, 1.594], [3.79, 1.583], [3.82, 1.593], [3.85, 1.597], [3.88, 1.593], [3.92, 1.6], [3.94, 1.602],
];

// y-axis labels (major) per panel
const areaMajor = [10, 12, 14, 16, 18, 20, 22];
const countMajor = [10, 30, 50, 70, 90];
const sizeMajor = [0.05, 0.1, 0.15, 0.2];
const udqsMajor = [0.2, 0.22, 0.24, 0.26, 0.28];
const dbqsMajor = [0.12, 0.13, 0.14, 0.15, 0.16, 0.17];
const uddbMajor = [1.2, 1.4, 1.6, 1.8, 2.0];

const FONT = "'Liberation Sans', Arial, sans-serif";
const textStyle = { fontSize: 12, fontStyle: 'italic' as const, fill: '#000', fontFamily: FONT, letterSpacing: 0.7 };
const FRAME = '#222';
const TICK = 4;

const rows = (pts: Pt[]) => pts.map(([t, v]) => ({ t, v }));

const steps = (lo: number, hi: number, step: number) => {
  const out: number[] = [];
  const n = Math.round((hi - lo) / step);
  for (let i = 0; i <= n; i++) out.push(+(lo + i * step).toFixed(6));
  return out;
};

const isIn = (v: number, list: number[]) => list.some((m) => Math.abs(m - v) < 1e-7);

interface PanelProps {
  title: string;
  yLabel: string;
  labelX: number;
  green: Pt[];
  red: Pt[];
  major: number[];
  minorStep: number;
  decimals: number;
  smooth?: boolean;
  extraTicks?: boolean;
}

const Panel = ({ title, yLabel, labelX, green, red, major, minorStep, decimals, smooth, extraTicks }: PanelProps) => {
  const lo = major[0];
  const hi = major[major.length - 1];
  const yTicks = steps(lo, hi, minorStep);
  const xTicks = extraTicks ? [...hourTicks, ...endTicks] : hourTicks;
  const yGrid = major.slice(1, -1);
  const curve = smooth ? 'monotone' : 'linear';
  const axisLine = { stroke: FRAME, strokeWidth: 1 };

  const bottomTick = (p: any) => {
    const v = p.payload.value;
    return (
      <g>
        <line x1={p.x} x2={p.x} y1={p.y} y2={p.y - TICK} stroke={FRAME} />
        {Number.isInteger(v) && (
          <text x={p.x} y={p.y + 15} textAnchor="middle" style={textStyle}>{`${v}h`}</text>
        )}
      </g>
    );
  };
  const topTick = (p: any) => <line x1={p.x} x2={p.x} y1={p.y} y2={p.y + TICK} stroke={FRAME} />;
  const leftTick = (p: any) => {
    const v = p.payload.value;
    const shift = Math.abs(v - lo) < 1e-7 ? -4 : Math.abs(v - hi) < 1e-7 ? 4 : 0;
    return (
      <g>
        <line x1={p.x} x2={p.x + TICK} y1={p.y} y2={p.y} stroke={FRAME} />
        {isIn(v, major) && (
          <text x={p.x - 4} y={p.y + shift} dy="0.35em" textAnchor="end" style={textStyle}>
            {v.toFixed(decimals)}
          </text>
        )}
      </g>
    );
  };
  const rightTick = (p: any) => <line x1={p.x - TICK} x2={p.x} y1={p.y} y2={p.y} stroke={FRAME} />;

  return (
    <LineChart width={350} height={350} margin={{ top: 20, right: 20, bottom: 12, left: 20 }}>
      <XAxis
        xAxisId="b"
        type="number"
        dataKey="t"
        domain={[0, T_MAX]}
        allowDataOverflow
        ticks={xTicks}
        interval={0}
        height={30}
        tickSize={0}
        tickMargin={0}
        axisLine={axisLine}
        tickLine={false}
        tick={bottomTick}
        label={(p: any) => (
          <text x={p.viewBox.x + p.viewBox.width / 2} y={p.viewBox.y + 30} textAnchor="middle" style={textStyle}>
            time
          </text>
        )}
      />
      <XAxis
        xAxisId="t"
        orientation="top"
        type="number"
        domain={[0, T_MAX]}
        allowDataOverflow
        ticks={xTicks}
        interval={0}
        height={0}
        tickSize={0}
        tickMargin={0}
        axisLine={axisLine}
        tickLine={false}
        tick={topTick}
        label={(p: any) => (
          <text x={p.viewBox.x + p.viewBox.width / 2} y={p.viewBox.y - 5} textAnchor="middle" style={{ ...textStyle, fontSize: 13 }}>
            {title}
          </text>
        )}
      />
      <YAxis
        yAxisId="l"
        type="number"
        domain={[lo, hi]}
        allowDataOverflow
        ticks={yTicks}
        interval={0}
        width={45}
        tickSize={0}
        tickMargin={0}
        axisLine={axisLine}
        tickLine={false}
        tick={leftTick}
        label={(p: any) => {
          const cy = p.viewBox.y + p.viewBox.height / 2;
          return (
            <text x={labelX} y={cy} transform={`rotate(-90, ${labelX}, ${cy})`} textAnchor="middle" style={textStyle}>
              {yLabel}
            </text>
          );
        }}
      />
      <YAxis
        yAxisId="r"
        orientation="right"
        type="number"
        domain={[lo, hi]}
        allowDataOverflow
        ticks={yTicks}
        interval={0}
        width={0}
        tickSize={0}
        tickMargin={0}
        axisLine={axisLine}
        tickLine={false}
        tick={rightTick}
      />
      {yGrid.map((v) => (
        <ReferenceLine key={`y${v}`} xAxisId="b" yAxisId="l" y={v} stroke="#555" strokeDasharray="2 3" />
      ))}
      {hourGrid.map((h) => (
        <ReferenceLine key={`x${h}`} xAxisId="b" yAxisId="l" x={h} stroke="#555" strokeDasharray="2 3" />
      ))}
      <Line
        xAxisId="b"
        yAxisId="l"
        data={rows(green)}
        dataKey="v"
        type={curve}
        stroke="#00ff00"
        strokeWidth={1}
        dot={false}
        isAnimationActive={false}
      />
      <Line
        xAxisId="b"
        yAxisId="l"
        data={rows(red)}
        dataKey="v"
        type={curve}
        stroke="#ff0000"
        strokeWidth={1}
        dot={false}
        isAnimationActive={false}
      />
    </LineChart>
  );
};

export default function App() {
  return (
    <div
      style={{
        position: 'absolute',
        left: 0,
        top: 0,
        width: 700,
        height: 1050,
        background: '#fff',
        display: 'grid',
        gridTemplateColumns: '350px 350px',
        gridTemplateRows: '350px 350px 350px',
      }}
    >
      <Panel title="A" yLabel="Area Fraction [%]" labelX={39} green={areaGreen} red={areaRed} major={areaMajor} minorStep={0.5} decimals={0} smooth />
      <Panel title="B" yLabel="number of UDs" labelX={41} green={countGreen} red={countRed} major={countMajor} minorStep={5} decimals={0} />
      <Panel title="C" yLabel="avg. UD area [Mm²]" labelX={29} green={sizeGreen} red={sizeRed} major={sizeMajor} minorStep={0.01} decimals={2} />
      <Panel title="D" yLabel="Intensity [mean(UD)/mean(QS)]" labelX={28} green={udqsGreen} red={udqsRed} major={udqsMajor} minorStep={0.005} decimals={2} extraTicks />
      <Panel title="E" yLabel="Intensity [mean(DB)/mean(QS)]" labelX={28} green={dbqsGreen} red={dbqsRed} major={dbqsMajor} minorStep={0.001} decimals={2} smooth extraTicks />
      <Panel title="F" yLabel="Intensity [mean(UD)/mean(DB)]" labelX={36} green={uddbGreen} red={uddbRed} major={uddbMajor} minorStep={0.05} decimals={1} extraTicks />
    </div>
  );
}
